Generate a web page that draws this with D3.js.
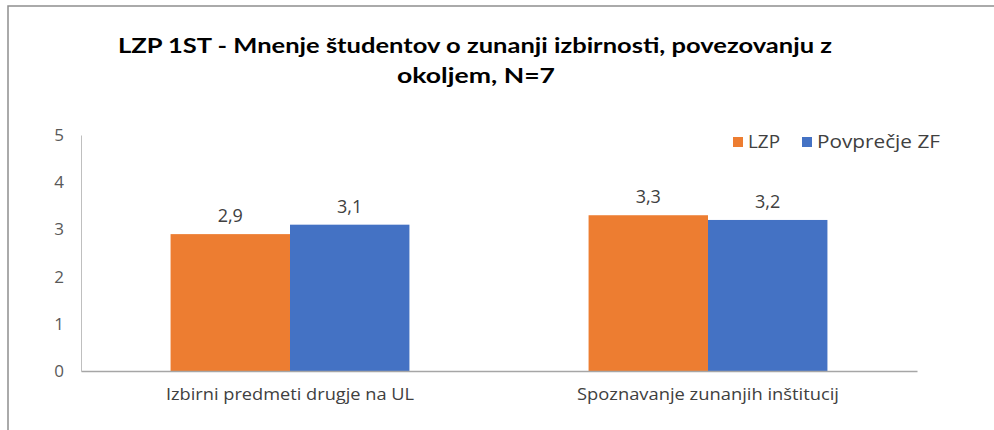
<!DOCTYPE html>
<html>
<head>
<meta charset="utf-8">
<script src="https://cdn.jsdelivr.net/npm/d3@7"></script>
<style>
  body { margin: 0; background: #fff; }
  svg { display: block; font-family: "Lato", "Open Sans", sans-serif; }
</style>
</head>
<body>
<svg id="chart" width="994" height="430"></svg>
<script>
const titleLines = ["LZP 1ST - Mnenje študentov o zunanji izbirnosti, povezovanju z", "okoljem, N=7"];
const categories = ["Izbirni predmeti drugje na UL", "Spoznavanje zunanjih inštitucij"];
const seriesNames = ["LZP", "Povprečje ZF"];
const lzp = [2.9, 3.3];
const povprecjeZF = [3.1, 3.2];
const yTicks = [0, 1, 2, 3, 4, 5];
const colors = ["#ED7D31", "#4472C4"];

const svg = d3.select("#chart"),
  margin = { top: 135, right: 77, bottom: 59, left: 81 },
  width = +svg.attr("width") - margin.left - margin.right,
  height = +svg.attr("height") - margin.top - margin.bottom;

// frame of the chart area
svg.append("path")
  .attr("d", "M8,430 V6 H994")
  .attr("fill", "none")
  .attr("stroke", "#8f8f8f")
  .attr("stroke-width", 1.5);

// title
const title = svg.append("text")
  .attr("text-anchor", "middle")
  .attr("font-weight", "bold")
  .attr("font-size", 21)
  .attr("fill", "#000");
title.append("tspan").attr("x", 475).attr("y", 53)
  .attr("textLength", 714).attr("lengthAdjust", "spacingAndGlyphs")
  .text(titleLines[0]);
title.append("tspan").attr("x", 476).attr("y", 83)
  .attr("textLength", 158).attr("lengthAdjust", "spacingAndGlyphs")
  .text(titleLines[1]);

const data = categories.map((c, i) => ({ name: c, values: [lzp[i], povprecjeZF[i]] }));

const x0 = d3.scaleBand().domain(categories).range([0, width]).padding(0);
const x1 = d3.scaleBand().domain(seriesNames).range([0, x0.bandwidth()])
  .paddingInner(0).paddingOuter(0.75);
const y = d3.scaleLinear().domain([0, 5]).range([height, 0]);

const g = svg.append("g")
  .attr("transform", "translate(" + margin.left + "," + margin.top + ")");

// y axis
const yAxis = g.append("g")
  .call(d3.axisLeft(y).tickValues(yTicks).tickSize(0).tickPadding(17).tickFormat(d3.format("d")));
yAxis.select(".domain").attr("stroke", "#bfbfbf");
yAxis.selectAll("text")
  .attr("font-size", 17)
  .attr("fill", "#595959")
  .attr("font-family", "'Open Sans', sans-serif");

// bars
const groups = g.selectAll(".group")
  .data(data)
  .enter()
  .append("g")
  .attr("class", "group")
  .attr("transform", d => "translate(" + x0(d.name) + ",0)");

groups.selectAll("rect")
  .data(d => d.values.map((v, i) => ({ key: seriesNames[i], value: v, i: i })))
  .enter()
  .append("rect")
  .attr("x", d => x1(d.key))
  .attr("y", d => y(d.value))
  .attr("width", x1.bandwidth())
  .attr("height", d => height - y(d.value))
  .attr("fill", d => colors[d.i]);

groups.selectAll(".val")
  .data(d => d.values.map((v, i) => ({ key: seriesNames[i], value: v })))
  .enter()
  .append("text")
  .attr("class", "val")
  .attr("x", d => x1(d.key) + x1.bandwidth() / 2)
  .attr("y", d => y(d.value) - 12)
  .attr("text-anchor", "middle")
  .attr("font-size", 18)
  .attr("font-family", "'Open Sans', sans-serif")
  .attr("fill", "#404040")
  .text(d => d3.format(".1f")(d.value).replace(".", ","));

// x axis
const catWidths = [248, 262];
const xAxis = g.append("g")
  .attr("transform", "translate(0," + height + ")")
  .call(d3.axisBottom(x0).tickSize(0).tickPadding(18));
xAxis.select(".domain").attr("stroke", "#a6a6a6").attr("stroke-width", 1.3);
xAxis.selectAll("text")
  .attr("font-size", 16)
  .attr("fill", "#404040")
  .attr("font-family", "'Open Sans', sans-serif")
  .attr("textLength", (d, i) => catWidths[i])
  .attr("lengthAdjust", "spacingAndGlyphs");

// legend
const legend = svg.append("g").attr("font-size", 18).attr("fill", "#404040")
  .attr("font-family", "'Open Sans', sans-serif");
const legendX = [733, 802];
const legendW = [32, 123];
seriesNames.forEach((s, i) => {
  legend.append("rect")
    .attr("x", legendX[i]).attr("y", 137)
    .attr("width", 10).attr("height", 10)
    .attr("fill", colors[i]);
  legend.append("text")
    .attr("x", legendX[i] + 15).attr("y", 148)
    .attr("textLength", legendW[i]).attr("lengthAdjust", "spacingAndGlyphs")
    .text(s);
});
</script>
</body>
</html>
